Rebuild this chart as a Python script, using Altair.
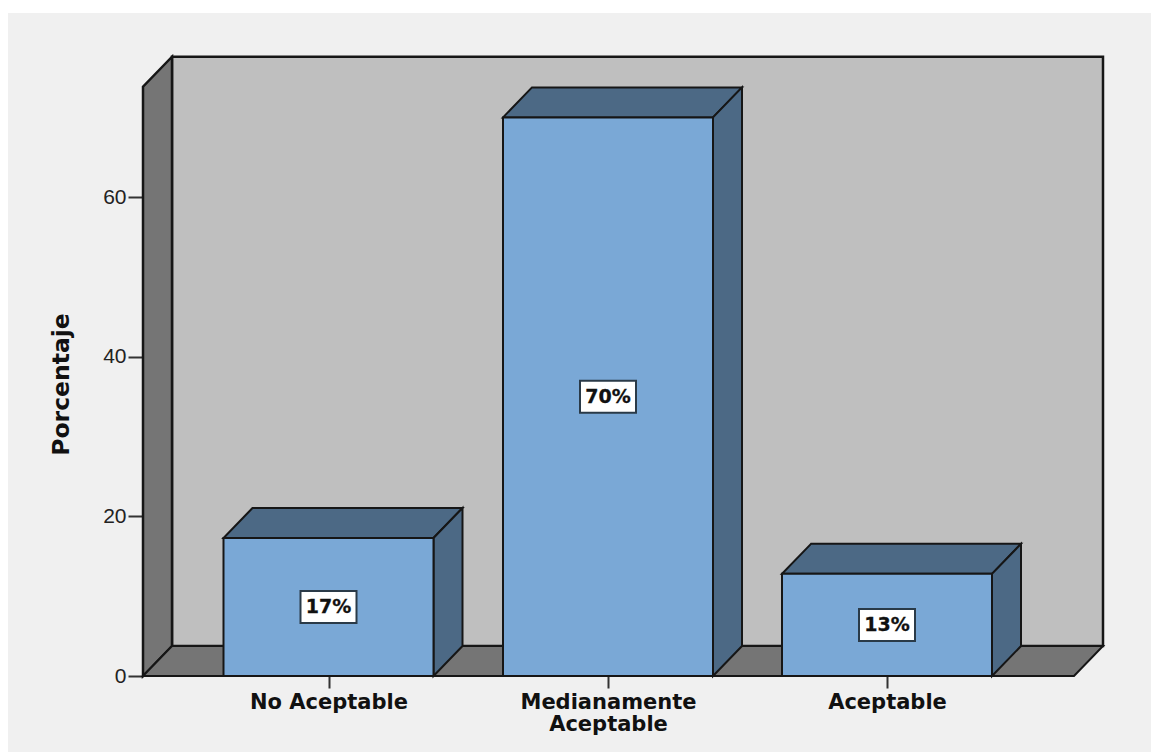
import json
import altair as alt
import pandas as pd

# Survey results
categories = ["No Aceptable", "Medianamente\nAceptable", "Aceptable"]
percentages = [17.3, 70.0, 12.8]
y_ticks = [0, 20, 40, 60]

# Layout of the pseudo-3D box, in units of the two scales
bar_centers = [328.5, 608, 887]
BAR_HALF = 105
DEPTH_X = 29
DEPTH_Y = 3.76
BOX_LEFT, BOX_RIGHT = 143, 1074
BOX_TOP = 77.6
BOX_HALF_W, BOX_HALF_H = 28, 2.0

EDGE = "#161616"
WALL = "#bfbfbf"
SIDE = "#757575"
FRONT = "#7aa8d6"
SHADE = "#4c6985"

sx = alt.Scale(domain=[8, 1151], nice=False, zero=False)
sy = alt.Scale(domain=[-9.52, 83.08], nice=False, zero=False)

labels_by_center = {
    str(c): n.split("\n") for c, n in zip(bar_centers, categories)
}
label_expr = f"{json.dumps(labels_by_center)}[toString(datum.value)]"


def parallelogram_v(x0, x1, low0, high0, low1, high1, fill=SHADE, width=2):
    """Face with vertical left and right edges."""
    df = pd.DataFrame({"x": [x0, x1], "y": [low0, low1], "y2": [high0, high1]})
    return alt.Chart(df).mark_area(
        color=fill, stroke=EDGE, strokeWidth=width
    ).encode(
        x=alt.X("x:Q", scale=sx),
        y=alt.Y("y:Q", scale=sy),
        y2="y2:Q",
    )


def parallelogram_h(y0, y1, left0, right0, left1, right1, fill):
    """Face with horizontal top and bottom edges."""
    df = pd.DataFrame({"y": [y0, y1], "x": [left0, left1], "x2": [right0, right1]})
    return alt.Chart(df).mark_area(
        orient="horizontal", color=fill, stroke=EDGE, strokeWidth=2
    ).encode(
        x=alt.X("x:Q", scale=sx),
        x2="x2:Q",
        y=alt.Y("y:Q", scale=sy),
    )


# Back wall carries both axes
wall = alt.Chart(pd.DataFrame({
    "x": [BOX_LEFT + DEPTH_X], "x2": [BOX_RIGHT + DEPTH_X],
    "y": [DEPTH_Y], "y2": [BOX_TOP],
})).mark_rect(color=WALL, stroke=EDGE, strokeWidth=2.5).encode(
    x=alt.X("x:Q", scale=sx, axis=alt.Axis(
        orient="bottom", offset=-76, values=bar_centers, labelExpr=label_expr,
        domain=False, grid=False, title=None, tickSize=12, tickWidth=2,
        tickColor="#333333", labelFont="DejaVu Sans", labelFontWeight="bold",
        labelFontSize=21, labelColor="#111111", labelPadding=3,
        labelLineHeight=22, labelAngle=0, labelFlush=False, labelOverlap=False,
    )),
    x2="x2:Q",
    y=alt.Y("y:Q", scale=sy, axis=alt.Axis(
        orient="left", offset=-135, values=y_ticks, domain=False, grid=False,
        tickSize=15, tickWidth=2, tickColor="#333333",
        labelFont="Liberation Sans", labelFontSize=21, labelColor="#222222",
        labelPadding=2, title="Porcentaje", titleFont="DejaVu Sans",
        titleFontWeight="bold", titleFontSize=23.5, titleColor="#111111",
        titleX=-70, titleY=371, titleAngle=270,
    )),
    y2="y2:Q",
)

left_wall = parallelogram_v(
    BOX_LEFT, BOX_LEFT + DEPTH_X, 0, BOX_TOP - DEPTH_Y, DEPTH_Y, BOX_TOP,
    fill=SIDE, width=2.5,
)

floor = parallelogram_h(
    0, DEPTH_Y, BOX_LEFT, BOX_RIGHT, BOX_LEFT + DEPTH_X, BOX_RIGHT + DEPTH_X, SIDE
)

layers = [wall, left_wall, floor]

# One extruded bar per category: top face, side face, front face, value label
for center, pct in zip(bar_centers, percentages):
    lo, hi = center - BAR_HALF, center + BAR_HALF
    layers.append(parallelogram_h(pct, pct + DEPTH_Y, lo, hi, lo + DEPTH_X, hi + DEPTH_X, SHADE))
    layers.append(parallelogram_v(hi, hi + DEPTH_X, 0, pct, DEPTH_Y, pct + DEPTH_Y))

    row = pd.DataFrame({
        "lo": [lo], "hi": [hi], "base": [0], "pct": [pct],
        "center": [center], "mid": [pct / 2],
        "bx0": [center - BOX_HALF_W], "bx1": [center + BOX_HALF_W],
        "by0": [pct / 2 - BOX_HALF_H], "by1": [pct / 2 + BOX_HALF_H],
        "label": [f"{pct:.0f}%"],
    })
    base = alt.Chart(row)
    layers.append(base.mark_rect(color=FRONT, stroke=EDGE, strokeWidth=2).encode(
        x=alt.X("lo:Q", scale=sx), x2="hi:Q",
        y=alt.Y("base:Q", scale=sy), y2="pct:Q",
    ))
    layers.append(base.mark_rect(color="white", stroke="#2a3a48", strokeWidth=2).encode(
        x=alt.X("bx0:Q", scale=sx), x2="bx1:Q",
        y=alt.Y("by0:Q", scale=sy), y2="by1:Q",
    ))
    layers.append(base.mark_text(
        font="DejaVu Sans", fontWeight="bold", fontSize=19, color="#111111",
        stroke="#111111", strokeWidth=0.3,
    ).encode(
        x=alt.X("center:Q", scale=sx),
        y=alt.Y("mid:Q", scale=sy),
        text="label:N",
    ))

chart = alt.layer(*layers).properties(
    width=1143,
    height=739,
    padding={"left": 8, "top": 13, "right": 0, "bottom": 0},
    autosize=alt.AutoSizeParams(type="none"),
    background="white",
).configure_view(fill="#f0f0f0", stroke=None)

chart.save("out.html", embed_options={"renderer": "svg", "actions": False})
